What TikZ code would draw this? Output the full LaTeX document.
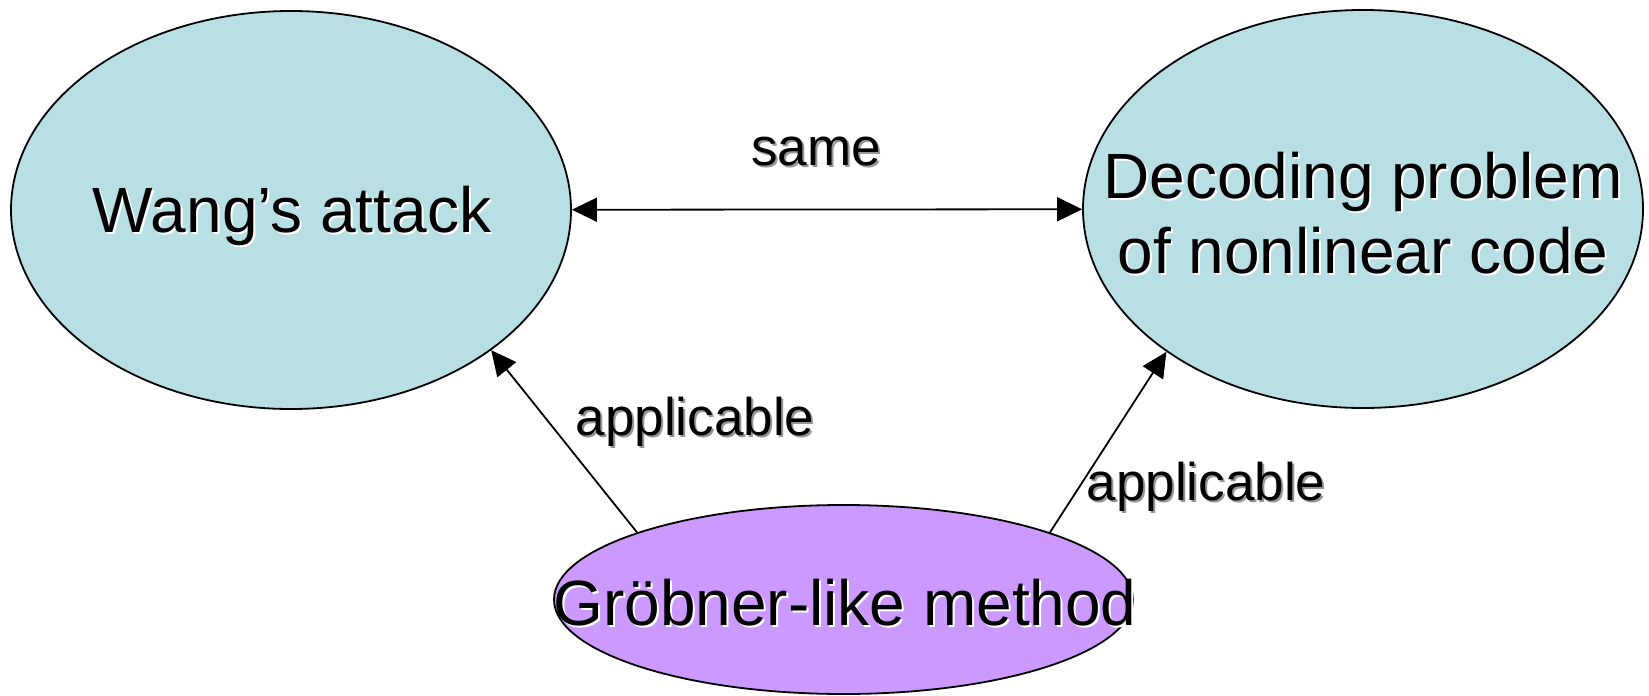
\documentclass[tikz,border=0pt]{standalone}
\usepackage{fontspec}
\setmainfont{Liberation Sans}
\usetikzlibrary{shapes.geometric,arrows.meta}
\definecolor{capsule}{RGB}{184,223,227}
\definecolor{lilac}{RGB}{204,153,255}
\definecolor{dropgrey}{RGB}{150,150,150}
\begin{document}
\begin{tikzpicture}[x=0.5pt,y=-0.5pt,
  blob/.style={ellipse,draw=black,line width=0.9pt,inner sep=0pt},
  big/.style={font=\fontsize{32}{38}\selectfont,anchor=base,inner sep=0pt},
  small/.style={font=\fontsize{26.5}{32}\selectfont,anchor=base,inner sep=0pt},
  glow/.style={xshift=1pt,yshift=-1pt,text=white},
  drop/.style={xshift=1pt,yshift=-1pt,text=dropgrey},
  tip/.tip={Triangle[length=12.5pt,width=12pt]},
  link/.style={line width=0.9pt,-tip}]
\useasboundingbox (0,0) rectangle (1649,696);

% the three ellipses
\node[blob,fill=capsule,minimum width=280pt,minimum height=199pt] (W) at (291,210) {};
\node[blob,fill=capsule,minimum width=280pt,minimum height=199pt] (D) at (1363,209) {};
\node[blob,fill=lilac,minimum width=289.5pt,minimum height=94.5pt] (G) at (843.5,599.5) {};

% ellipse captions with a light drop shadow
\node[big,glow] (Wsh) at (292,232) {Wang’s attack};
\node[big] (Wt) at (292,232) {Wang’s attack};
\node[big,glow] (D1sh) at (1363,198) {Decoding problem};
\node[big] (D1) at (1363,198) {Decoding problem};
\node[big,glow] (D2sh) at (1363,273) {of nonlinear code};
\node[big] (D2) at (1363,273) {of nonlinear code};
\node[big,glow] (Gsh) at (845,625) {Gröbner-like method};
\node[big] (Gt) at (845,625) {Gröbner-like method};

% connectors
\draw[link,tip-tip] (W) -- (D);
\draw[link] (G.162) -- (W.-35.5);
\draw[link] (G.18) -- (D.216);

% connector labels
\node[small,drop] (Ssh) at (816,165) {same};
\node[small] (S) at (816,165) {same};
\node[small,drop] (A1sh) at (695,435) {applicable};
\node[small] (A1) at (695,435) {applicable};
\node[small,drop] (A2sh) at (1206,500) {applicable};
\node[small] (A2) at (1206,500) {applicable};
\end{tikzpicture}
\end{document}
